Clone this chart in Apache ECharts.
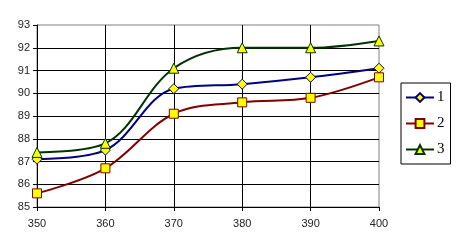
<!DOCTYPE html>
<html>
<head>
<meta charset="utf-8">
<script src="https://cdn.jsdelivr.net/npm/echarts@6/dist/echarts.min.js"></script>
<style>
  html, body { margin: 0; padding: 0; background: #fff; }
  #chart { width: 459px; height: 250px; }
</style>
</head>
<body>
<div id="chart"></div>
<script>
var xValues = [350, 360, 370, 380, 390, 400];
var series1 = [87.1, 87.5, 90.2, 90.4, 90.7, 91.1];
var series2 = [85.6, 86.7, 89.1, 89.6, 89.8, 90.7];
var series3 = [87.4, 87.8, 91.1, 92.0, 92.0, 92.3];
var seriesNames = ['1', '2', '3'];

function pairs(vals) {
    return xValues.map(function (x, i) { return [x, vals[i]]; });
}

function makeSeries(name, vals, lineColor, symbol, size) {
    return {
        name: name,
        type: 'line',
        data: pairs(vals),
        smooth: 0.35,
        symbol: symbol,
        symbolSize: size,
        showAllSymbol: true,
        lineStyle: { color: lineColor, width: 2 },
        itemStyle: { color: '#ffff00', borderColor: lineColor, borderWidth: 1 },
        emphasis: { disabled: true }
    };
}

var chart = echarts.init(document.getElementById('chart'));
var axisText = { color: '#222', fontFamily: 'Liberation Sans', fontSize: 11 };

chart.setOption({
    animation: false,
    backgroundColor: '#fff',
    grid: {
        left: 37, right: 80, top: 25, bottom: 43,
        show: true, borderColor: '#808080', borderWidth: 1
    },
    legend: {
        orient: 'vertical',
        left: 401, top: 83,
        padding: [7, 6, 7, 4],
        itemWidth: 28, itemHeight: 11, itemGap: 11,
        borderColor: '#000', borderWidth: 1,
        textStyle: { fontFamily: 'Liberation Serif', fontSize: 15, color: '#000', padding: [0, 0, 0, -2] },
        data: seriesNames
    },
    xAxis: {
        type: 'value',
        min: 350, max: 400, interval: 10,
        axisLine: { lineStyle: { color: '#000', width: 1 } },
        axisTick: { show: true, length: 4, lineStyle: { color: '#000' } },
        axisLabel: Object.assign({ margin: 11 }, axisText),
        splitLine: { show: true, showMinLine: false, showMaxLine: false, lineStyle: { color: '#000', width: 1 } }
    },
    yAxis: {
        type: 'value',
        min: 85, max: 93, interval: 1,
        axisLine: { show: true, lineStyle: { color: '#000', width: 1 } },
        axisTick: { show: true, length: 4, lineStyle: { color: '#000' } },
        axisLabel: Object.assign({ margin: 7 }, axisText),
        splitLine: { show: true, showMinLine: false, showMaxLine: false, lineStyle: { color: '#000', width: 1 } }
    },
    series: [
        makeSeries(seriesNames[0], series1, '#000080', 'diamond', 10),
        makeSeries(seriesNames[1], series2, '#800000', 'rect', 9),
        makeSeries(seriesNames[2], series3, '#003300', 'triangle', 10)
    ]
});
</script>
</body>
</html>
